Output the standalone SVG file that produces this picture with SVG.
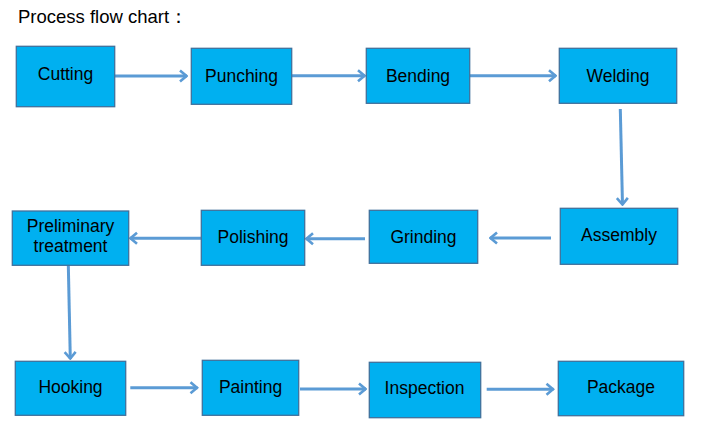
<svg xmlns="http://www.w3.org/2000/svg" width="704" height="437" viewBox="0 0 704 437">
<style>
.box{fill:#00B0F0;stroke:#41719C;stroke-width:1.3}
.lbl{font-family:"Liberation Sans",Arial,sans-serif;font-size:17.5px;fill:#000;text-anchor:middle}
.title{font-family:"Liberation Sans",Arial,sans-serif;font-size:18.5px;fill:#000}
.conn{fill:none;stroke:#5B9BD5;stroke-width:3;marker-end:url(#arr)}
</style>
<defs>
<marker id="arr" viewBox="0 0 10 14" refX="9" refY="7" markerWidth="10" markerHeight="14" markerUnits="userSpaceOnUse" orient="auto">
<path d="M2,1.5 L8.5,7 L2,12.5" fill="none" stroke="#5B9BD5" stroke-width="2.6"/>
</marker>
</defs>
<rect width="704" height="437" fill="#fff"/>
<text class="title" x="18" y="23">Process flow chart：</text>
<g id="connectors">
<line class="conn" x1="115" y1="76" x2="187" y2="76"/>
<line class="conn" x1="292" y1="75.7" x2="365" y2="75.7"/>
<line class="conn" x1="470" y1="75.7" x2="556" y2="75.7"/>
<line class="conn" x1="620.3" y1="109" x2="622.5" y2="205"/>
<line class="conn" x1="551" y1="238" x2="490" y2="238"/>
<line class="conn" x1="365" y1="238.7" x2="306" y2="238.7"/>
<line class="conn" x1="201" y1="238.3" x2="130" y2="238.3"/>
<line class="conn" x1="68.3" y1="264.5" x2="70.3" y2="359"/>
<line class="conn" x1="130.3" y1="387.7" x2="197.5" y2="387.7"/>
<line class="conn" x1="300" y1="389" x2="366" y2="389"/>
<line class="conn" x1="486.7" y1="389.3" x2="553.5" y2="389.3"/>
</g>
<g id="cutting"><rect class="box" x="16.3" y="46.3" width="98.4" height="60.4"/><text class="lbl" x="65.5" y="80">Cutting</text></g>
<g id="punching"><rect class="box" x="191.3" y="48.3" width="100.4" height="56"/><text class="lbl" x="241.5" y="81.7">Punching</text></g>
<g id="bending"><rect class="box" x="366.3" y="48.3" width="103.4" height="55"/><text class="lbl" x="418" y="81.7">Bending</text></g>
<g id="welding"><rect class="box" x="559.3" y="48.3" width="117.4" height="55"/><text class="lbl" x="618" y="81.7">Welding</text></g>
<g id="assembly"><rect class="box" x="560.3" y="208.3" width="117.4" height="56"/><text class="lbl" x="619" y="241">Assembly</text></g>
<g id="grinding"><rect class="box" x="369.3" y="210.3" width="108.4" height="53"/><text class="lbl" x="423.5" y="243.3">Grinding</text></g>
<g id="polishing"><rect class="box" x="201.3" y="210.3" width="103.4" height="55"/><text class="lbl" x="253" y="243">Polishing</text></g>
<g id="preliminary-treatment"><rect class="box" x="12.3" y="211" width="116.4" height="54.3"/><text class="lbl" x="70.5" y="232.3">Preliminary</text><text class="lbl" x="70.5" y="251.7">treatment</text></g>
<g id="hooking"><rect class="box" x="15.3" y="361.3" width="110.4" height="54"/><text class="lbl" x="70.5" y="393.3">Hooking</text></g>
<g id="painting"><rect class="box" x="202.3" y="360.3" width="96.4" height="55"/><text class="lbl" x="250.5" y="393.3">Painting</text></g>
<g id="inspection"><rect class="box" x="369.3" y="362.3" width="111.4" height="55.4"/><text class="lbl" x="424.5" y="394.3">Inspection</text></g>
<g id="package"><rect class="box" x="558.3" y="361.3" width="125.4" height="54.4"/><text class="lbl" x="621" y="393.3">Package</text></g>
</svg>
